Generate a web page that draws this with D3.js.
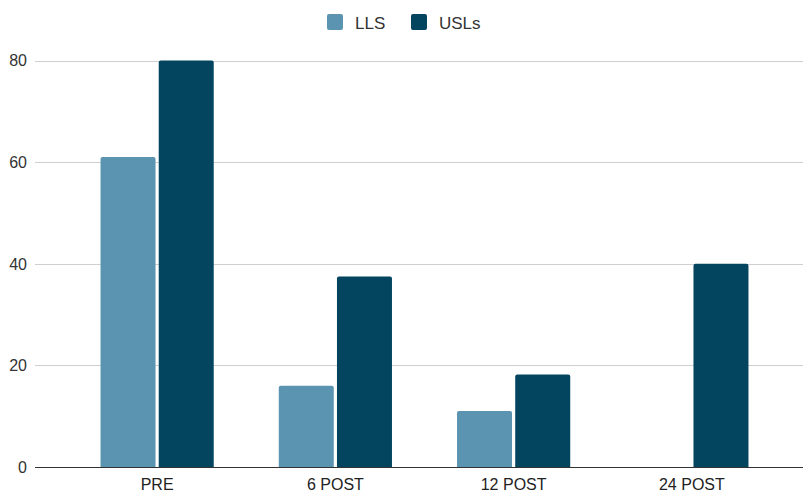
<!DOCTYPE html>
<html>
<head>
<meta charset="utf-8">
<script src="https://cdn.jsdelivr.net/npm/d3@7/dist/d3.min.js"></script>
<style>
  body { margin: 0; background: #fff; }
  text { font-family: "Liberation Sans", Arial, sans-serif; }
</style>
</head>
<body>
<script>
const categories = ["PRE", "6 POST", "12 POST", "24 POST"];
const seriesNames = ["LLS", "USLs"];
const lls = [61, 16, 11, 0];
const usls = [80, 37.5, 18.2, 40];
const yTicks = [0, 20, 40, 60, 80];
const colors = ["#5b94b1", "#03445f"];

const width = 803, height = 492;

const data = categories.map(function(c, i) {
    return { cat: c, values: [lls[i], usls[i]] };
});

const svg = d3.select("body").append("svg")
    .attr("width", width)
    .attr("height", height);

const y = d3.scaleLinear().domain([0, 80]).range([467, 60.5]);

const x0 = d3.scaleBand()
    .domain(categories)
    .range([68, 781])
    .paddingInner(0.365)
    .paddingOuter(0.1825);

const x1 = d3.scaleBand()
    .domain(seriesNames)
    .range([0, x0.bandwidth()])
    .paddingInner(0.055);

// gridlines
svg.append("g")
    .selectAll("line")
    .data(yTicks.filter(function(d) { return d !== 0; }))
    .enter()
    .append("line")
    .attr("x1", 35)
    .attr("x2", width)
    .attr("y1", function(d) { return Math.round(y(d)) + 0.5; })
    .attr("y2", function(d) { return Math.round(y(d)) + 0.5; })
    .attr("stroke", "#cfcfcf")
    .attr("stroke-width", 1);

// y tick labels
svg.append("g")
    .selectAll("text")
    .data(yTicks)
    .enter()
    .append("text")
    .attr("x", 27)
    .attr("y", function(d) { return y(d); })
    .attr("dy", "0.36em")
    .attr("text-anchor", "end")
    .attr("font-size", "16px")
    .attr("fill", "#333")
    .text(function(d) { return d; });

// bars with slightly rounded tops
function barPath(x, w, top, bottom, r) {
    if (bottom - top < r) r = Math.max(0, bottom - top);
    return "M" + x + "," + bottom +
        "V" + (top + r) +
        "Q" + x + "," + top + " " + (x + r) + "," + top +
        "H" + (x + w - r) +
        "Q" + (x + w) + "," + top + " " + (x + w) + "," + (top + r) +
        "V" + bottom + "Z";
}

const groups = svg.append("g")
    .selectAll("g")
    .data(data)
    .enter()
    .append("g")
    .attr("transform", function(d) { return "translate(" + x0(d.cat) + ",0)"; });

groups.selectAll("path")
    .data(function(d) {
        return d.values.map(function(v, i) { return { key: seriesNames[i], value: v, i: i }; });
    })
    .enter()
    .filter(function(d) { return d.value > 0; })
    .append("path")
    .attr("d", function(d) {
        return barPath(x1(d.key), x1.bandwidth(), y(d.value), y(0), 2);
    })
    .attr("fill", function(d) { return colors[d.i]; });

// baseline
svg.append("line")
    .attr("x1", 35)
    .attr("x2", width)
    .attr("y1", 467.5)
    .attr("y2", 467.5)
    .attr("stroke", "#333")
    .attr("stroke-width", 1);

// x labels
svg.append("g")
    .selectAll("text")
    .data(categories)
    .enter()
    .append("text")
    .attr("x", function(d) { return x0(d) + x0.bandwidth() / 2; })
    .attr("y", 490)
    .attr("text-anchor", "middle")
    .attr("font-size", "16px")
    .attr("fill", "#222")
    .text(function(d) { return d; });

// legend
const legendX = [327, 411];
const legend = svg.append("g")
    .selectAll("g")
    .data(seriesNames)
    .enter()
    .append("g")
    .attr("transform", function(d, i) { return "translate(" + legendX[i] + ",14)"; });

legend.append("rect")
    .attr("width", 16)
    .attr("height", 16)
    .attr("rx", 2)
    .attr("fill", function(d, i) { return colors[i]; });

legend.append("text")
    .attr("x", 28)
    .attr("y", 15)
    .attr("font-size", "17px")
    .attr("fill", "#333")
    .text(function(d) { return d; });
</script>
</body>
</html>
